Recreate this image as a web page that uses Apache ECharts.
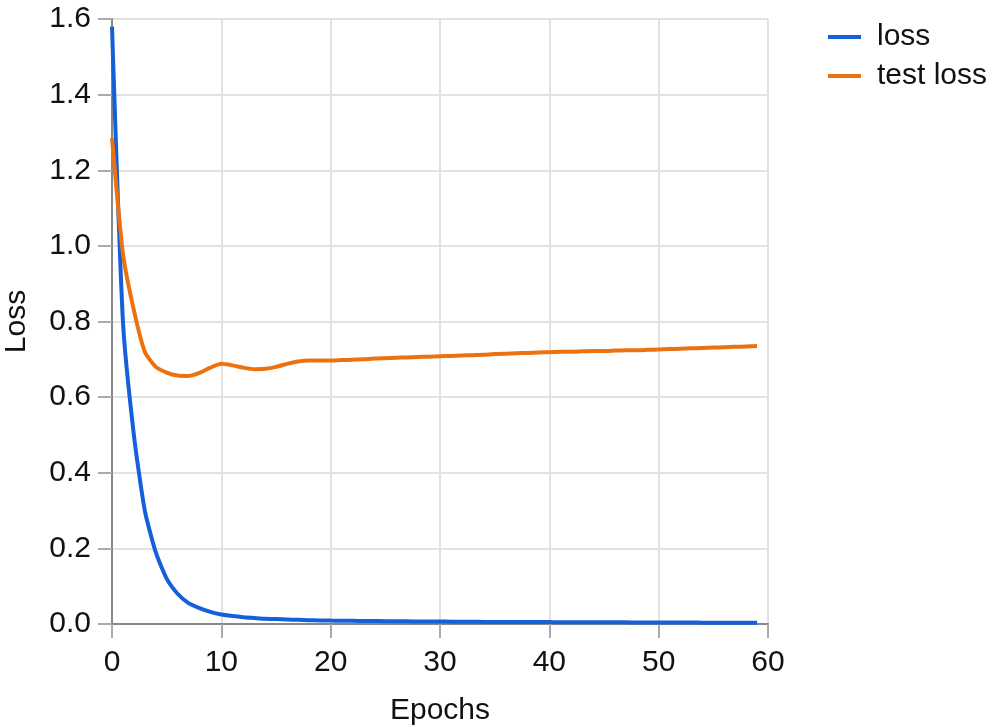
<!DOCTYPE html>
<html>
<head>
<meta charset="utf-8">
<script src="https://cdn.jsdelivr.net/npm/echarts@6/dist/echarts.min.js"></script>
<style>html,body{margin:0;padding:0;background:#fff;}#c{width:1000px;height:727px;}</style>
</head>
<body>
<div id="c"></div>
<script>
const epochs = Array.from({length: 60}, (_, i) => i);
const lossValues = [1.58,0.80,0.50,0.30,0.19,0.12,0.08,0.055,0.042,0.032,0.025,0.021,0.018,0.016,0.014,0.013,0.012,0.011,0.010,0.0095,0.009,0.0087,0.0084,0.0081,0.0078,0.0075,0.0072,0.007,0.0068,0.0066,0.0064,0.0062,0.006,0.0058,0.0056,0.0055,0.0054,0.0053,0.0052,0.0051,0.005,0.0049,0.0048,0.0047,0.0046,0.0045,0.0044,0.0043,0.0042,0.0041,0.004,0.0039,0.0038,0.0037,0.0036,0.0035,0.0034,0.0033,0.0032,0.0031];
const testLossValues = [1.285,0.98,0.83,0.72,0.68,0.665,0.657,0.656,0.664,0.678,0.688,0.684,0.678,0.674,0.675,0.68,0.688,0.694,0.697,0.697,0.697,0.698,0.699,0.700,0.702,0.703,0.704,0.705,0.706,0.707,0.708,0.709,0.710,0.711,0.712,0.714,0.715,0.716,0.717,0.718,0.719,0.720,0.720,0.721,0.722,0.722,0.723,0.724,0.724,0.725,0.726,0.727,0.728,0.729,0.730,0.731,0.732,0.733,0.734,0.735];
const seriesNames = ['loss', 'test loss'];
const seriesColors = ['#1560d8', '#ec7210'];

const font = 'Liberation Sans, Arial, sans-serif';
const chart = echarts.init(document.getElementById('c'));
chart.setOption({
  animation: false,
  backgroundColor: '#fff',
  grid: {left: 112, right: 232, top: 19, bottom: 103, containLabel: false, outerBoundsMode: 'none'},
  legend: {
    orient: 'vertical', left: 823, top: 17, itemGap: 9,
    itemWidth: 33, itemHeight: 4, icon: 'rect',
    textStyle: {fontSize: 30, color: '#111', fontFamily: font, padding: [0, 0, 0, 11], lineHeight: 30},
    data: seriesNames
  },
  xAxis: {
    type: 'value', min: 0, max: 60, interval: 10,
    name: 'Epochs', nameLocation: 'middle', nameGap: 72,
    nameTextStyle: {fontSize: 30, color: '#111', fontFamily: font},
    axisLine: {show: true, onZero: false, lineStyle: {color: '#888', width: 2}},
    axisTick: {show: true, length: 14, lineStyle: {color: '#aaa', width: 2}},
    axisLabel: {fontSize: 30, color: '#111', fontFamily: font, margin: 24},
    splitLine: {show: true, lineStyle: {color: '#e2e2e2', width: 2}}
  },
  yAxis: {
    type: 'value', min: 0, max: 1.6, interval: 0.2,
    name: 'Loss', nameLocation: 'middle', nameGap: 80,
    nameTextStyle: {fontSize: 30, color: '#111', fontFamily: font},
    axisLine: {show: true, lineStyle: {color: '#888', width: 2}},
    axisTick: {show: true, length: 14, lineStyle: {color: '#aaa', width: 2}},
    axisLabel: {fontSize: 30, color: '#111', fontFamily: font, margin: 21, formatter: v => v.toFixed(1)},
    splitLine: {show: true, lineStyle: {color: '#e2e2e2', width: 2}}
  },
  series: [
    {name: seriesNames[0], type: 'line', data: epochs.map((e, i) => [e, lossValues[i]]), showSymbol: false, smooth: 0.2,
     lineStyle: {color: seriesColors[0], width: 4}, itemStyle: {color: seriesColors[0]}},
    {name: seriesNames[1], type: 'line', data: epochs.map((e, i) => [e, testLossValues[i]]), showSymbol: false, smooth: 0.2,
     lineStyle: {color: seriesColors[1], width: 4}, itemStyle: {color: seriesColors[1]}}
  ]
});
</script>
</body>
</html>
